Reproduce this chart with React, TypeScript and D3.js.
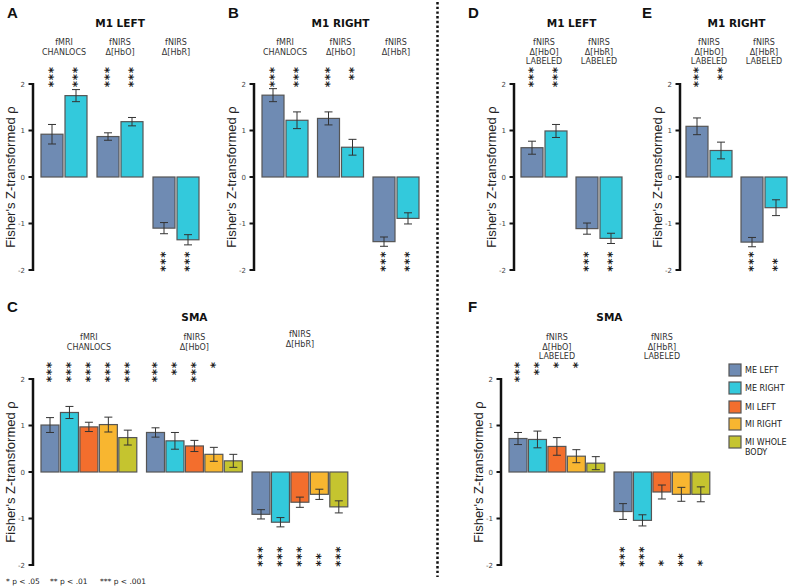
import React from "react";
import * as d3 from "d3";

// ---------- data ----------
const conditionNames = ["ME LEFT", "ME RIGHT", "MI LEFT", "MI RIGHT", "MI WHOLE BODY"];
const conditionColors = ["#6f8bb3", "#33c9dc", "#f36e2d", "#f8b630", "#c5c42f"];
const yTicks = [-2, -1, 0, 1, 2];
const yLabel = "Fisher's Z-transformed ρ";
const footnotes = ["* p < .05", "** p < .01", "*** p < .001"];

// A: M1 LEFT
const aGroups = [["fMRI", "CHANLOCS"], ["fNIRS", "Δ[HbO]"], ["fNIRS", "Δ[HbR]"]];
const aMeans = [[0.92, 1.75], [0.87, 1.19], [-1.1, -1.35]];
const aErrs = [[0.21, 0.13], [0.08, 0.09], [0.12, 0.11]];
const aStars = [[3, 3], [3, 3], [3, 3]];

// B: M1 RIGHT
const bGroups = [["fMRI", "CHANLOCS"], ["fNIRS", "Δ[HbO]"], ["fNIRS", "Δ[HbR]"]];
const bMeans = [[1.76, 1.22], [1.26, 0.64], [-1.39, -0.89]];
const bErrs = [[0.14, 0.18], [0.14, 0.17], [0.1, 0.12]];
const bStars = [[3, 3], [3, 2], [3, 3]];

// D: M1 LEFT labeled
const dGroups = [["fNIRS", "Δ[HbO]", "LABELED"], ["fNIRS", "Δ[HbR]", "LABELED"]];
const dMeans = [[0.63, 0.99], [-1.11, -1.32]];
const dErrs = [[0.14, 0.14], [0.12, 0.11]];
const dStars = [[3, 3], [3, 3]];

// E: M1 RIGHT labeled
const eGroups = [["fNIRS", "Δ[HbO]", "LABELED"], ["fNIRS", "Δ[HbR]", "LABELED"]];
const eMeans = [[1.09, 0.57], [-1.4, -0.66]];
const eErrs = [[0.18, 0.18], [0.1, 0.17]];
const eStars = [[3, 2], [3, 2]];

// C: SMA
const cGroups = [["fMRI", "CHANLOCS"], ["fNIRS", "Δ[HbO]"], ["fNIRS", "Δ[HbR]"]];
const cMeans = [
  [1.01, 1.28, 0.97, 1.02, 0.74],
  [0.85, 0.67, 0.56, 0.38, 0.24],
  [-0.91, -1.08, -0.65, -0.48, -0.75],
];
const cErrs = [
  [0.16, 0.13, 0.1, 0.16, 0.16],
  [0.1, 0.18, 0.12, 0.15, 0.14],
  [0.1, 0.1, 0.11, 0.11, 0.13],
];
const cStars = [
  [3, 3, 3, 3, 3],
  [3, 2, 3, 1, 0],
  [3, 3, 3, 2, 3],
];

// F: SMA labeled
const fGroups = [["fNIRS", "Δ[HbO]", "LABELED"], ["fNIRS", "Δ[HbR]", "LABELED"]];
const fMeans = [
  [0.72, 0.7, 0.55, 0.34, 0.19],
  [-0.85, -1.04, -0.43, -0.48, -0.48],
];
const fErrs = [
  [0.13, 0.18, 0.19, 0.14, 0.14],
  [0.17, 0.12, 0.15, 0.15, 0.16],
];
const fStars = [
  [3, 2, 1, 1, 0],
  [3, 3, 1, 2, 1],
];

// ---------- layout ----------
type PanelCfg = {
  letter: string;
  title: string;
  letterX: number;
  letterY: number;
  axisX: number;
  yTop: number;
  yBottom: number;
  x0: number;
  step: number;
  barW: number;
  groupOffset: number;
  groupLabelDy?: number[];
  groups: string[][];
  means: number[][];
  errs: number[][];
  stars: number[][];
};

const panels: PanelCfg[] = [
  { letter: "A", title: "M1 LEFT", letterX: 7, letterY: 18, axisX: 33, yTop: 84, yBottom: 270, x0: 41, step: 24, barW: 22, groupOffset: 56, groups: aGroups, means: aMeans, errs: aErrs, stars: aStars },
  { letter: "B", title: "M1 RIGHT", letterX: 228, letterY: 18, axisX: 254, yTop: 84, yBottom: 270, x0: 262, step: 24, barW: 22, groupOffset: 55.5, groups: bGroups, means: bMeans, errs: bErrs, stars: bStars },
  { letter: "D", title: "M1 LEFT", letterX: 468, letterY: 18, axisX: 514, yTop: 84, yBottom: 270, x0: 521, step: 24, barW: 22, groupOffset: 55, groups: dGroups, means: dMeans, errs: dErrs, stars: dStars },
  { letter: "E", title: "M1 RIGHT", letterX: 642, letterY: 18, axisX: 680, yTop: 84, yBottom: 270, x0: 686, step: 24, barW: 22, groupOffset: 55, groups: eGroups, means: eMeans, errs: eErrs, stars: eStars },
  { letter: "C", title: "SMA", letterX: 7, letterY: 312, axisX: 33, yTop: 379, yBottom: 565, x0: 41, step: 19.45, barW: 18, groupOffset: 105.5, groupLabelDy: [0, 0, -3], groups: cGroups, means: cMeans, errs: cErrs, stars: cStars },
  { letter: "F", title: "SMA", letterX: 468, letterY: 312, axisX: 501, yTop: 379, yBottom: 565, x0: 509, step: 19.45, barW: 18, groupOffset: 105, groups: fGroups, means: fMeans, errs: fErrs, stars: fStars },
];

const SANS = "'DejaVu Sans', Verdana, sans-serif";
const ARIAL = "'Liberation Sans', Arial, sans-serif";
const STAR_GAP = 6.7;
const STAR_SIZE = 12;
const STAR_ADV = 0.5 * STAR_SIZE; // glyph advance
const STAR_RISE = 0.575 * STAR_SIZE; // glyph centre above baseline

function Panel({ cfg }: { cfg: PanelCfg }) {
  const y = d3.scaleLinear().domain([-2, 2]).range([cfg.yBottom, cfg.yTop]);
  const slot = d3.scaleLinear().domain([0, 1]).range([cfg.x0, cfg.x0 + cfg.step]);
  const barX = (g: number, i: number) => slot(i) + g * cfg.groupOffset;
  const nInGroup = cfg.means[0].length;
  const firstX = barX(0, 0);
  const lastX = barX(cfg.means.length - 1, nInGroup - 1) + cfg.barW;
  const titleX = (firstX + lastX) / 2;
  const labelBase = cfg.yTop - 39;
  const midY = (cfg.yTop + cfg.yBottom) / 2;

  return (
    <g>
      <text x={cfg.letterX} y={cfg.letterY} fontFamily={ARIAL} fontWeight="bold" fontSize={15} fill="#111">
        {cfg.letter}
      </text>
      <text x={titleX} y={cfg.letterY + 9} textAnchor="middle" fontFamily={SANS} fontWeight="bold" fontSize={10.5} fill="#111">
        {cfg.title}
      </text>
      {/* y axis */}
      <line x1={cfg.axisX} x2={cfg.axisX} y1={y(2) - 1} y2={y(-2) + 1} stroke="#111" strokeWidth={2.5} />
      {yTicks.map((t) => (
        <g key={t}>
          <line x1={cfg.axisX - 4.5} x2={cfg.axisX} y1={y(t)} y2={y(t)} stroke="#111" strokeWidth={2} />
          <text x={cfg.axisX - 8} y={y(t) + 2.5} textAnchor="end" fontFamily={SANS} fontSize={7} fill="#444">
            {t}
          </text>
        </g>
      ))}
      <text
        transform={`translate(${cfg.axisX - 18},${midY}) rotate(-90)`}
        textAnchor="middle"
        fontFamily={ARIAL}
        fontSize={13}
        fill="#222"
      >
        {yLabel}
      </text>
      {cfg.means.map((grp, g) => {
        const gx0 = barX(g, 0);
        const gx1 = barX(g, grp.length - 1) + cfg.barW;
        const gc = (gx0 + gx1) / 2;
        const dy = cfg.groupLabelDy ? cfg.groupLabelDy[g] : 0;
        return (
          <g key={g}>
            {cfg.groups[g].map((line, li) => (
              <text key={li} x={gc} y={labelBase + dy + li * 9.6} textAnchor="middle" fontFamily={SANS} fontSize={8} fill="#333">
                {line}
              </text>
            ))}
            {grp.map((v, i) => {
              const x = barX(g, i);
              const cx = x + cfg.barW / 2;
              const e = cfg.errs[g][i];
              const top = Math.min(y(v), y(0));
              const h = Math.abs(y(v) - y(0));
              const nStars = cfg.stars[g][i];
              const firstStarCenter =
                v >= 0 ? y(2) - 14 : y(-2) - 2 - (nStars - 1) * STAR_GAP;
              // stack of asterisks as one rotated text running downward
              const startY = firstStarCenter - STAR_ADV / 2;
              const baseX = cx - STAR_RISE;
              return (
                <g key={i}>
                  <rect x={x} y={top} width={cfg.barW} height={h} fill={conditionColors[i]} stroke="#555" strokeWidth={1.2} />
                  <line x1={cx} x2={cx} y1={y(v + e)} y2={y(v - e)} stroke="#333" strokeWidth={1} />
                  <line x1={cx - 4} x2={cx + 4} y1={y(v + e)} y2={y(v + e)} stroke="#333" strokeWidth={1} />
                  <line x1={cx - 4} x2={cx + 4} y1={y(v - e)} y2={y(v - e)} stroke="#333" strokeWidth={1} />
                  {nStars > 0 && (
                    <text
                      transform={`translate(${baseX},${startY}) rotate(89.9)`}
                      fontFamily={SANS}
                      fontWeight="bold"
                      fontSize={STAR_SIZE}
                      letterSpacing={STAR_GAP - STAR_ADV}
                      fill="#1a1a1a"
                    >
                      {"*".repeat(nStars)}
                    </text>
                  )}
                </g>
              );
            })}
          </g>
        );
      })}
    </g>
  );
}

export default function App() {
  const legendX = 729;
  const legendYs = [370, 388, 407, 424, 442];
  return (
    <svg width={793} height={587} style={{ position: "absolute", left: 0, top: 0, background: "#fff" }}>
      <rect x={0} y={0} width={793} height={587} fill="#fff" />
      {panels.map((p) => (
        <Panel key={p.letter} cfg={p} />
      ))}
      {/* divider */}
      <line x1={437.5} x2={437.5} y1={2} y2={577} stroke="#111" strokeWidth={2.5} strokeDasharray="2.4 2.3" />
      {/* legend */}
      {conditionNames.map((name, i) => {
        const words = name === "MI WHOLE BODY" ? ["MI WHOLE", "BODY"] : [name];
        return (
          <g key={name}>
            <rect x={legendX} y={legendYs[i] - 6} width={12} height={12} fill={conditionColors[i]} stroke="#555" strokeWidth={1.2} />
            {words.map((w, k) => (
              <text key={k} x={legendX + 16} y={legendYs[i] + 3 + k * 9.5} fontFamily={SANS} fontSize={8} fill="#222">
                {w}
              </text>
            ))}
          </g>
        );
      })}
      {/* footnote */}
      {footnotes.map((f, i) => (
        <text key={f} x={[6, 50, 100][i]} y={584} fontFamily={SANS} fontSize={7.5} fill="#222">
          {f}
        </text>
      ))}
    </svg>
  );
}
